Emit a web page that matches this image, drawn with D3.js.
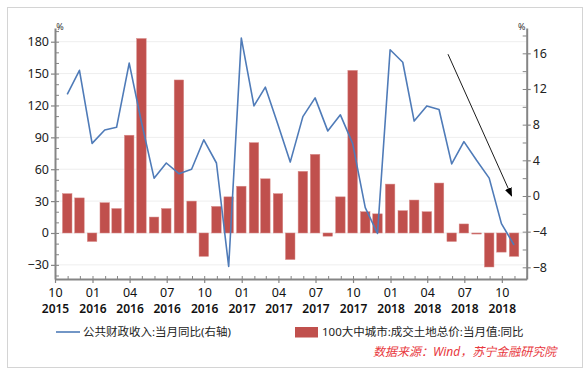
<!doctype html>
<html>
  <head>
    <meta charset="utf-8">
    <title>公共财政收入与土地成交</title>
    <script src="https://cdnjs.cloudflare.com/ajax/libs/d3/7.8.5/d3.min.js"></script>
    <style>
      body { margin: 0; background: #fff; }
      text { font-family: "Noto Sans", "Noto Sans CJK SC", sans-serif; }
    </style>
  </head>
  <body>
    <div id="root"></div>
    <script>
      // months Oct 2015 .. Oct 2018 (plotted at month end)
      let months = [];
      for (let i = 0; i < 37; i++) months.push(new Date(2015, 9 + i + 1, 0));

      // 100大中城市:成交土地总价:当月值:同比 (left axis, %)
      let landValues = [37, 33, -8,
        28.5, 23, 92, 183, 15, 23, 144, 30, -22, 25, 34, 44,
        85, 51, 37, -25, 58, 74, -3, 34, 153, 20, 18, 46,
        21, 31, 20, 47, -8, 8.5, -1, -32, -18, -22];

      // 公共财政收入:当月同比 (right axis, %)
      let fiscalValues = [11.4, 14.1, 5.9,
        7.4, 7.7, 14.9, 8.3, 2.0, 3.7, 2.5, 3.0, 6.3, 3.7, -7.9, 17.7,
        10.1, 12.2, 8.0, 3.8, 8.9, 11.0, 7.3, 9.1, 5.9, -1.3, -4.2, 16.4,
        15.0, 8.4, 10.1, 9.7, 3.6, 6.1, 4.0, 2.0, -3.1, -5.5];

      let leftTicks = [-30, 0, 30, 60, 90, 120, 150, 180];
      let rightTicks = [-8, -4, 0, 4, 8, 12, 16];
      let legendLabels = ['公共财政收入:当月同比(右轴)', '100大中城市:成交土地总价:当月值:同比'];
      let sourceText = '数据来源：Wind，苏宁金融研究院';

      // trend arrow, in data coordinates (date, right axis value)
      let arrowFrom = [new Date(2018, 4, 22), 15.9];
      let arrowTo = [new Date(2018, 9, 25), 0];

      let width = 588, height = 374,
        plotLeft = 55, plotRight = 526.7, plotTop = 28, plotBottom = 279;

      let svg = d3.select('#root')
        .append('svg')
        .attr('width', width)
        .attr('height', height);

      // outer frame
      svg.append('rect')
        .attr('x', 7.5).attr('y', 7.5)
        .attr('width', 575).attr('height', 360)
        .attr('fill', '#fff')
        .attr('stroke', '#d4d4d4');

      let xScale = d3.scaleTime()
        .domain([new Date(2015, 9, 1), new Date(2018, 11, 1)])
        .range([plotLeft, plotRight]);

      let yLeft = d3.scaleLinear()
        .domain([-43.3, 192.9])
        .range([plotBottom, plotTop]);

      let yRight = d3.scaleLinear()
        .domain([-9.31, 18.84])
        .range([plotBottom, plotTop]);

      // grid lines
      svg.append('g')
        .selectAll('line')
        .data(leftTicks)
        .enter()
        .append('line')
        .attr('x1', plotLeft).attr('x2', plotRight)
        .attr('y1', d => yLeft(d)).attr('y2', d => yLeft(d))
        .attr('stroke', '#eeeeee');

      // bars
      let barWidth = 9.5;
      svg.append('g')
        .selectAll('rect')
        .data(landValues)
        .enter()
        .append('rect')
        .attr('x', (d, i) => xScale(months[i]) - barWidth / 2)
        .attr('y', d => yLeft(Math.max(0, d)))
        .attr('width', barWidth)
        .attr('height', d => Math.abs(yLeft(d) - yLeft(0)))
        .attr('fill', '#c0504d')
        .attr('stroke', '#d88a88')
        .attr('stroke-width', 0.5);

      // line
      let line = d3.line()
        .x((d, i) => xScale(months[i]))
        .y(d => yRight(d));

      svg.append('path')
        .datum(fiscalValues)
        .attr('d', line)
        .attr('fill', 'none')
        .attr('stroke', '#4f7bb8')
        .attr('stroke-width', 1.6)
        .attr('stroke-linejoin', 'round');

      // arrow annotation
      svg.append('defs')
        .append('marker')
        .attr('id', 'arrow')
        .attr('viewBox', '0 0 10 10')
        .attr('refX', 9).attr('refY', 5)
        .attr('markerWidth', 9).attr('markerHeight', 9)
        .attr('markerUnits', 'userSpaceOnUse')
        .attr('orient', 'auto')
        .append('path')
        .attr('d', 'M0,1L10,5L0,9Z')
        .attr('fill', '#000');

      svg.append('line')
        .attr('x1', xScale(arrowFrom[0])).attr('y1', yRight(arrowFrom[1]))
        .attr('x2', xScale(arrowTo[0])).attr('y2', yRight(arrowTo[1]))
        .attr('stroke', '#000')
        .attr('stroke-width', 0.9)
        .attr('marker-end', 'url(#arrow)');

      let axisColor = '#858585';

      function styleAxis(g) {
        g.select('.domain').attr('stroke', axisColor).attr('stroke-width', 2);
        g.selectAll('.tick line').attr('stroke', axisColor).attr('stroke-width', 1.2);
        g.selectAll('.tick text').attr('fill', '#222').style('font-size', '12.5px');
      }

      // left axis: minor ticks inward, major outward
      svg.append('g')
        .attr('transform', 'translate(' + plotLeft + ',0)')
        .call(d3.axisRight(yLeft).tickValues(d3.range(-40, 191, 10)).tickSize(4).tickFormat(''))
        .call(g => g.select('.domain').remove())
        .selectAll('line').attr('stroke', axisColor);
      svg.append('g')
        .attr('transform', 'translate(' + plotLeft + ',0)')
        .call(d3.axisLeft(yLeft).tickValues(leftTicks).tickSize(4).tickSizeOuter(0).tickPadding(2))
        .call(styleAxis);

      // right axis
      svg.append('g')
        .attr('transform', 'translate(' + plotRight + ',0)')
        .call(d3.axisLeft(yRight).tickValues(d3.range(-8, 19, 2)).tickSize(4).tickFormat(''))
        .call(g => g.select('.domain').remove())
        .selectAll('line').attr('stroke', axisColor);
      svg.append('g')
        .attr('transform', 'translate(' + plotRight + ',0)')
        .call(d3.axisRight(yRight).tickValues(rightTicks).tickSize(4).tickSizeOuter(0).tickPadding(2))
        .call(styleAxis);

      // x axis: monthly minor ticks up, quarterly labels
      svg.append('g')
        .attr('transform', 'translate(0,' + plotBottom + ')')
        .call(d3.axisTop(xScale).ticks(d3.timeMonth.every(1)).tickSize(3).tickFormat(''))
        .call(g => g.select('.domain').remove())
        .selectAll('line').attr('stroke', axisColor);
      let xAxis = svg.append('g')
        .attr('transform', 'translate(0,' + plotBottom + ')')
        .call(d3.axisBottom(xScale)
          .tickValues(d3.timeMonth.range(new Date(2015, 9, 1), new Date(2018, 10, 1), 3))
          .tickSize(4).tickSizeOuter(0).tickFormat(''))
        .call(styleAxis);

      xAxis.selectAll('.tick')
        .append('text')
        .attr('y', 18)
        .attr('text-anchor', 'middle')
        .attr('fill', '#111')
        .style('font-size', '12.5px')
        .text(d => d3.timeFormat('%m')(d));
      xAxis.selectAll('.tick')
        .append('text')
        .attr('y', 34)
        .attr('text-anchor', 'middle')
        .attr('fill', '#111')
        .style('font-size', '12px')
        .style('font-weight', '600')
        .text(d => d3.timeFormat('%Y')(d));

      // unit labels
      svg.append('text')
        .attr('x', plotLeft + 5).attr('y', plotTop + 2)
        .attr('text-anchor', 'middle')
        .style('font-size', '9px')
        .attr('fill', '#333')
        .text('%');
      svg.append('text')
        .attr('x', plotRight - 5).attr('y', plotTop + 2)
        .attr('text-anchor', 'middle')
        .style('font-size', '9px')
        .attr('fill', '#333')
        .text('%');

      // legend
      svg.append('line')
        .attr('x1', 56).attr('x2', 80)
        .attr('y1', 332).attr('y2', 332)
        .attr('stroke', '#4f7bb8')
        .attr('stroke-width', 1.6);
      svg.append('text')
        .attr('x', 83).attr('y', 336)
        .attr('fill', '#222')
        .style('font-size', '11.5px')
        .text(legendLabels[0]);
      svg.append('rect')
        .attr('x', 295).attr('y', 327)
        .attr('width', 23).attr('height', 10.5)
        .attr('fill', '#c0504d');
      svg.append('text')
        .attr('x', 322).attr('y', 336)
        .attr('fill', '#222')
        .style('font-size', '11.5px')
        .text(legendLabels[1]);

      // source
      svg.append('text')
        .attr('x', 373).attr('y', 356)
        .attr('fill', '#e8383d')
        .style('font-size', '12px')
        .style('font-style', 'italic')
        .text(sourceText);
    </script>
  </body>
</html>
